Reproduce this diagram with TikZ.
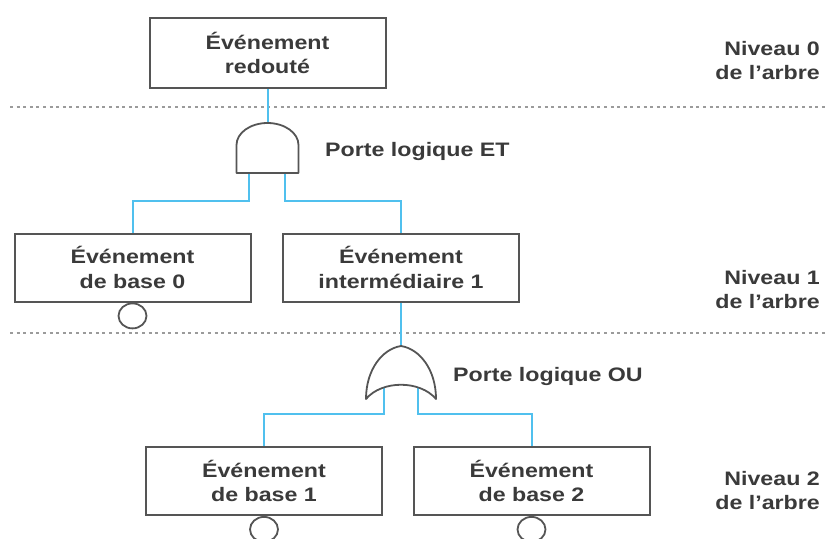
\documentclass[tikz,border=0pt]{standalone}
\usepackage{fontspec}
\setmainfont{Liberation Sans}[FakeStretch=1.19]
\usetikzlibrary{shapes.geometric}

\definecolor{boxgray}{RGB}{85,85,85}
\definecolor{txtgray}{RGB}{58,58,58}
\definecolor{wireblue}{RGB}{80,192,238}
\definecolor{dotgray}{RGB}{155,155,155}

\tikzset{
  evt/.style={draw=boxgray, line width=2pt, minimum width=236pt, minimum height=68pt,
              inner sep=0pt, align=center, text=txtgray},
  basic/.style={draw=boxgray, ellipse, line width=1.8pt, minimum width=28pt,
                minimum height=25pt, inner sep=0pt, anchor=north},
  wire/.style={draw=wireblue, line width=2pt},
  gate/.style={draw=boxgray, line width=1.8pt, line join=round},
  gatelabel/.style={text=txtgray, inner sep=0pt, anchor=base west},
  level/.style={text=txtgray, inner sep=0pt, anchor=north east, align=right},
  levelsep/.style={draw=dotgray, line width=2.2pt, dash pattern=on 3pt off 3.6pt}
}

\begin{document}
\begin{tikzpicture}[x=1pt, y=1pt, font=\fontsize{19.5}{24.5}\selectfont\bfseries]
\useasboundingbox (0,0) rectangle (826,-538);

% level separators
\draw[levelsep] (10,-107) -- (826,-107);
\draw[levelsep] (10,-333) -- (826,-333);

% events
\node[evt, minimum height=70pt] (top) at (267.5,-53) {Événement\\redouté};
\node[evt] (b0)   at (132.5,-267.5) {Événement\\de base 0};
\node[evt] (int1) at (401,-267.5)   {Événement\\intermédiaire 1};
\node[evt] (b1)   at (264,-481)     {Événement\\de base 1};
\node[evt] (b2)   at (531.5,-481)   {Événement\\de base 2};

% basic event markers
\node[basic] (c0) at (b0.south) {};
\node[basic] (c1) at (b1.south) {};
\node[basic] (c2) at (b2.south) {};

% gate ports
\coordinate (andtop) at (267.5,-123);
\coordinate (andL)   at (249,-173);
\coordinate (andR)   at (285,-173);
\coordinate (ortop)  at (401,-346);
\coordinate (orL)    at (384,-388);
\coordinate (orR)    at (418,-388);

% connectors
\draw[wire] (top.south) -- (andtop);
\draw[wire] (andL) -- ++(0,-28) -| (b0.north);
\draw[wire] (andR) -- ++(0,-28) -| (int1.north);
\draw[wire] (int1.south) -- (ortop);
\draw[wire] (orL) -- ++(0,-26) -| (b1.north);
\draw[wire] (orR) -- ++(0,-26) -| (b2.north);

% AND gate
\draw[gate] (236.5,-173) -- (236.5,-145)
  arc[start angle=180, end angle=0, x radius=31, y radius=22]
  -- (298.5,-173) -- cycle;

% OR gate
\draw[gate] (ortop)
  .. controls (382,-349) and (366,-370) .. (366,-399)
  .. controls (382,-380) and (420,-380) .. (436,-399)
  .. controls (436,-370) and (420,-349) .. (ortop) -- cycle;

% labels
\node[gatelabel] (etlabel) at (325,-156) {Porte logique ET};
\node[gatelabel] (oulabel) at (453,-381) {Porte logique OU};

\node[level] (lvl0) at (820,-41)  {Niveau 0\\de l’arbre};
\node[level] (lvl1) at (820,-270) {Niveau 1\\de l’arbre};
\node[level] (lvl2) at (820,-471) {Niveau 2\\de l’arbre};
\end{tikzpicture}
\end{document}
